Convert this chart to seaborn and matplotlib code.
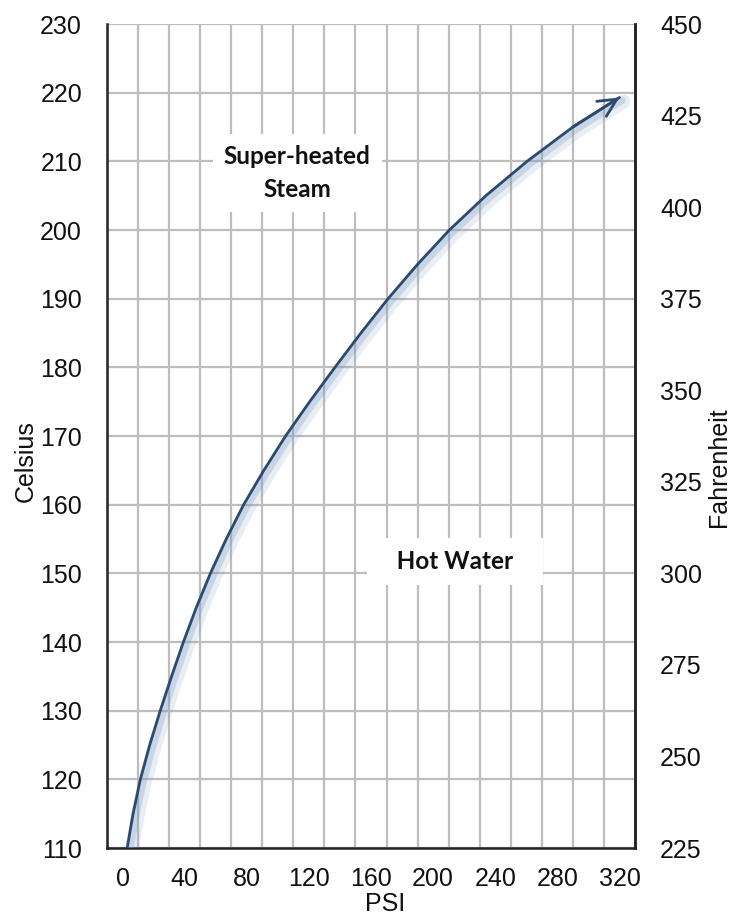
import matplotlib
matplotlib.use("Agg")
import matplotlib.pyplot as plt
import matplotlib.patheffects as pe
import seaborn as sns
import pandas as pd

# ---- data (curve read every 5 degC) ----
celsius = [110, 115, 120, 125, 130, 135, 140, 145, 150, 155, 160, 165,
           170, 175, 180, 185, 190, 195, 200, 205, 210, 215, 219.3]
psi = [3, 6.8, 11.5, 17.5, 24.3, 31.6, 39.2, 47.5, 56.6, 66.8, 78, 91,
       105, 120.5, 136.8, 153.5, 171, 190, 210.5, 234, 260.5, 290, 320]
psi_ticks = [0, 40, 80, 120, 160, 200, 240, 280, 320]
psi_grid = [10, 30, 50, 70, 90, 110, 130, 150, 170, 190, 210, 230, 250, 270, 290, 310]
celsius_ticks = [110, 120, 130, 140, 150, 160, 170, 180, 190, 200, 210, 220, 230]
fahrenheit_ticks = [225, 250, 275, 300, 325, 350, 375, 400, 425, 450]
region_labels = ["Super-heated\nSteam", "   Hot Water   "]
region_psi = [112.6, 214]
region_celsius = [208.3, 151.7]
region_pads = [0.45, 0.5]

sns.set_theme(style="white")
plt.rcParams["font.family"] = ["Liberation Sans", "DejaVu Sans"]

W, H = 737, 916
fig = plt.figure(figsize=(W / 100, H / 100), dpi=100)
ax = fig.add_axes([107 / W, 1 - 848 / H, 528 / W, 824 / H])

line_color = "#2a4a70"
df = pd.DataFrame({"PSI": psi, "Celsius": celsius})
glow = [
    pe.SimpleLineShadow(offset=(3, -3), shadow_color="#7f9cc0", alpha=0.17, linewidth=10),
    pe.SimpleLineShadow(offset=(2, -2), shadow_color="#7f9cc0", alpha=0.3, linewidth=5),
    pe.Normal(),
]
sns.lineplot(data=df, x="PSI", y="Celsius", ax=ax, color=line_color, lw=2,
             sort=False, path_effects=glow, zorder=5)
ax.annotate("", xy=(psi[-1], celsius[-1]), xytext=(psi[-2], celsius[-2]),
            arrowprops=dict(arrowstyle="->,head_length=0.65,head_width=0.32",
                            color=line_color, lw=2, shrinkA=0, shrinkB=0,
                            mutation_scale=20), zorder=6)

ax.set_xlim(-10, 330)
ax.set_ylim(110, 230)
ax.set_xticks(psi_ticks)
ax.set_xticks(psi_grid, minor=True)
ax.set_yticks(celsius_ticks)
ax.set_axisbelow(True)
grid_kw = dict(color="#bdbdbd", lw=1.6)
ax.grid(False)
ax.grid(True, which="minor", axis="x", **grid_kw)
ax.grid(True, which="major", axis="y", **grid_kw)
ax.tick_params(axis="both", which="both", length=0, labelsize=18, colors="#111111")
ax.tick_params(axis="x", pad=14)
ax.tick_params(axis="y", pad=18)

for side in ["left", "bottom", "right"]:
    ax.spines[side].set_color("#222222")
    ax.spines[side].set_linewidth(1.8)
ax.spines["top"].set_visible(False)

ax.set_xlabel("PSI", fontsize=18, color="#111111")
ax.set_ylabel("Celsius", fontsize=18, color="#111111")
ax.xaxis.set_label_coords(0.527, -0.0534)
ax.yaxis.set_label_coords(-0.131, 0.47)

ax2 = ax.twinx()
ax2.set_ylim(225, 450)
ax2.set_yticks(fahrenheit_ticks)
ax2.grid(False)
ax2.tick_params(axis="y", length=0, labelsize=18, pad=18, colors="#111111")
for side in ["left", "bottom", "top"]:
    ax2.spines[side].set_visible(False)
ax2.spines["right"].set_color("#222222")
ax2.spines["right"].set_linewidth(1.8)
ax2.set_ylabel("Fahrenheit", fontsize=18, color="#111111")
ax2.yaxis.set_label_coords(1.136, 0.462)

for label, x, y, pad in zip(region_labels, region_psi, region_celsius, region_pads):
    ax.text(x, y, label, ha="center", va="center", fontfamily=["Lato", "DejaVu Sans"],
            fontweight="bold", fontsize=17.5, color="#111111", linespacing=1.55,
            bbox=dict(boxstyle=f"square,pad={pad}", fc="white", ec="none"), zorder=4)

fig.savefig("out.png", dpi=100, facecolor="white")
